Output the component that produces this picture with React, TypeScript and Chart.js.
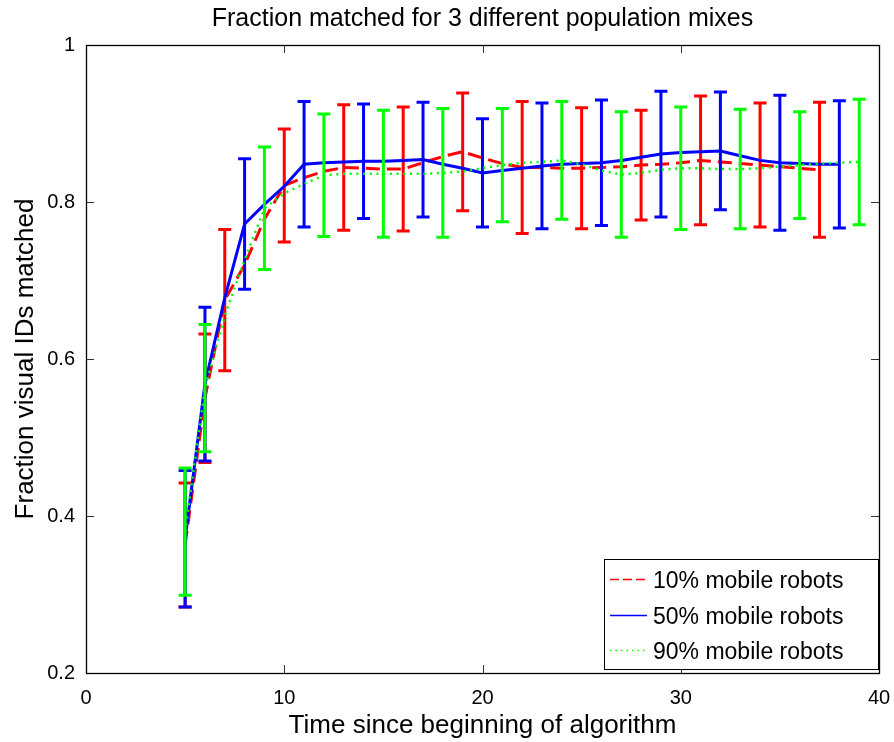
import React, { useEffect, useRef } from "react";
import { Chart, registerables } from "chart.js";

Chart.register(...registerables);

// ---------- data ----------
const timeSteps = [5, 6, 7, 8, 9, 10, 11, 12, 13, 14, 15, 16, 17, 18, 19, 20, 21, 22, 23, 24, 25, 26, 27, 28, 29, 30, 31, 32, 33, 34, 35, 36, 37, 38, 39];

const seriesLabels = ["10% mobile robots", "50% mobile robots", "90% mobile robots"];

// 10% mobile robots (x = 5..37)
const red10 = [0.363, 0.550, 0.675, 0.720, 0.778, 0.821, 0.831, 0.839, 0.844, 0.843, 0.842, 0.842, 0.850, 0.858, 0.864, 0.856, 0.849, 0.844, 0.844, 0.843, 0.843, 0.844, 0.845, 0.847, 0.848, 0.850, 0.853, 0.851, 0.849, 0.847, 0.845, 0.843, 0.841];
const red10Err = [0.079, 0.082, 0.090, null, null, 0.072, null, null, 0.080, null, null, 0.079, null, null, 0.075, null, null, 0.084, null, null, 0.077, null, null, 0.070, null, null, 0.082, null, null, 0.079, null, null, 0.086];

// 50% mobile robots (x = 5..38)
const blue50 = [0.371, 0.568, 0.678, 0.772, 0.797, 0.820, 0.848, 0.850, 0.851, 0.852, 0.852, 0.853, 0.854, 0.848, 0.843, 0.837, 0.840, 0.843, 0.846, 0.848, 0.849, 0.850, 0.853, 0.857, 0.861, 0.863, 0.864, 0.865, 0.859, 0.853, 0.850, 0.849, 0.848, 0.848];
const blue50Err = [0.087, 0.098, null, 0.083, null, null, 0.080, null, null, 0.073, null, null, 0.073, null, null, 0.069, null, null, 0.080, null, null, 0.080, null, null, 0.080, null, null, 0.075, null, null, 0.086, null, null, 0.081];

// 90% mobile robots (x = 5..39)
const green90 = [0.380, 0.563, 0.655, 0.726, 0.792, 0.811, 0.823, 0.834, 0.836, 0.836, 0.836, 0.836, 0.836, 0.837, 0.839, 0.843, 0.847, 0.850, 0.851, 0.853, 0.848, 0.840, 0.835, 0.837, 0.841, 0.843, 0.843, 0.842, 0.842, 0.843, 0.845, 0.847, 0.849, 0.850, 0.851];
const green90Err = [0.081, 0.081, null, null, 0.078, null, null, 0.078, null, null, 0.081, null, null, 0.082, null, null, 0.072, null, null, 0.075, null, null, 0.080, null, null, 0.078, null, null, 0.076, null, null, 0.068, null, null, 0.080];

const xTickValues = [0, 10, 20, 30, 40];
const yTickValues = [0.2, 0.4, 0.6, 0.8, 1];

const titleText = "Fraction matched for 3 different population mixes";
const xTitleText = "Time since beginning of algorithm";
const yTitleText = "Fraction visual IDs matched";

// ---------- styles ----------
const FONT = "'Liberation Sans', Arial, Helvetica, sans-serif";
const RED = "#ff0000";
const BLUE = "#0000ff";
const GREEN = "#00ff00";
const seriesColors = [RED, BLUE, GREEN];
const legendDashes = [[9, 4], [], [1.5, 4]];

const toPoints = (vals: number[]) => vals.map((v, i) => ({ x: timeSteps[i], y: v }));

const errorBarPlugin = {
  id: "errorBars",
  afterDatasetDraw(chart: any, args: any) {
    const ds = chart.data.datasets[args.index];
    const errs: (number | null)[] = ds.errorValues;
    if (!errs) return;
    const xs = chart.scales.x;
    const ys = chart.scales.y;
    const ctx = chart.ctx;
    ctx.save();
    ctx.strokeStyle = seriesColors[args.index];
    ctx.lineWidth = 3;
    ctx.lineCap = "butt";
    ctx.setLineDash([]);
    ds.data.forEach((p: any, i: number) => {
      const e = errs[i];
      if (e == null) return;
      const px = xs.getPixelForValue(p.x);
      const yt = ys.getPixelForValue(p.y + e);
      const yb = ys.getPixelForValue(p.y - e);
      const hw = 6.5;
      ctx.beginPath();
      ctx.moveTo(px, yt);
      ctx.lineTo(px, yb);
      ctx.moveTo(px - hw, yt);
      ctx.lineTo(px + hw, yt);
      ctx.moveTo(px - hw, yb);
      ctx.lineTo(px + hw, yb);
      ctx.stroke();
    });
    ctx.restore();
  },
};

const framePlugin = {
  id: "frameAndLegend",
  afterDraw(chart: any) {
    const ctx = chart.ctx;
    const a = chart.chartArea;
    const xs = chart.scales.x;
    const ys = chart.scales.y;
    ctx.save();
    // inward ticks
    ctx.strokeStyle = "#333";
    ctx.lineWidth = 1;
    const tl = 8;
    xTickValues.forEach((v) => {
      const px = Math.round(xs.getPixelForValue(v)) + 0.5;
      ctx.beginPath();
      ctx.moveTo(px, a.bottom);
      ctx.lineTo(px, a.bottom - tl);
      ctx.moveTo(px, a.top);
      ctx.lineTo(px, a.top + tl);
      ctx.stroke();
    });
    yTickValues.forEach((v) => {
      const py = Math.round(ys.getPixelForValue(v)) + 0.5;
      ctx.beginPath();
      ctx.moveTo(a.left, py);
      ctx.lineTo(a.left + tl, py);
      ctx.moveTo(a.right, py);
      ctx.lineTo(a.right - tl, py);
      ctx.stroke();
    });
    // frame
    ctx.strokeStyle = "#000";
    ctx.lineWidth = 1.3;
    ctx.strokeRect(Math.round(a.left) + 0.5, Math.round(a.top) + 0.5, Math.round(a.right - a.left), Math.round(a.bottom - a.top));

    // legend
    const bw = 274;
    const bh = 110;
    const bx = Math.round(a.right) - 1 - bw;
    const by = Math.round(a.bottom) - 4 - bh;
    ctx.fillStyle = "#fff";
    ctx.fillRect(bx, by, bw, bh);
    ctx.strokeStyle = "#000";
    ctx.lineWidth = 1;
    ctx.strokeRect(bx + 0.5, by + 0.5, bw, bh);
    const rows = [23, 59, 94];
    chart.data.datasets.forEach((ds: any, i: number) => {
      const ry = by + rows[i];
      ctx.strokeStyle = seriesColors[i];
      ctx.lineWidth = 1.5;
      ctx.setLineDash(legendDashes[i]);
      ctx.beginPath();
      ctx.moveTo(bx + 6, ry - 2.5);
      ctx.lineTo(bx + 43, ry - 2.5);
      ctx.stroke();
      ctx.setLineDash([]);
      ctx.fillStyle = "#000";
      ctx.font = `23px ${FONT}`;
      ctx.textBaseline = "middle";
      ctx.textAlign = "left";
      ctx.fillText(ds.label, bx + 49, ry);
    });
    ctx.restore();
  },
};

export default function App() {
  const canvasRef = useRef<HTMLCanvasElement | null>(null);

  useEffect(() => {
    const canvas = canvasRef.current;
    if (!canvas) return;
    const chart = new Chart(canvas, {
      type: "line",
      data: {
        datasets: [
          {
            label: seriesLabels[0],
            data: toPoints(red10),
            borderColor: RED,
            backgroundColor: RED,
            borderWidth: 3,
            borderDash: [14, 7],
            pointRadius: 0,
            fill: false,
            order: 3,
            errorValues: red10Err,
          } as any,
          {
            label: seriesLabels[1],
            data: toPoints(blue50),
            borderColor: BLUE,
            backgroundColor: BLUE,
            borderWidth: 3,
            pointRadius: 0,
            fill: false,
            order: 2,
            errorValues: blue50Err,
          } as any,
          {
            label: seriesLabels[2],
            data: toPoints(green90),
            borderColor: GREEN,
            backgroundColor: GREEN,
            borderWidth: 2.5,
            borderDash: [2, 4.7],
            pointRadius: 0,
            fill: false,
            order: 1,
            errorValues: green90Err,
          } as any,
        ],
      },
      options: {
        responsive: false,
        animation: false,
        devicePixelRatio: 1,
        layout: { padding: { left: 0, right: 15, top: 0, bottom: 0 } },
        elements: { line: { tension: 0 }, point: { radius: 0 } },
        plugins: {
          legend: { display: false },
          tooltip: { enabled: false },
          title: {
            display: true,
            text: titleText,
            fullSize: false,
            color: "#000",
            font: { family: FONT, size: 25, weight: "normal", lineHeight: 1.2 },
            padding: { top: 4, bottom: 11 },
          },
        },
        scales: {
          x: {
            type: "linear",
            min: 0,
            max: 40,
            afterBuildTicks: (s: any) => {
              s.ticks = xTickValues.map((v) => ({ value: v }));
            },
            ticks: {
              color: "#000",
              font: { family: FONT, size: 20 },
              padding: 13,
              maxRotation: 0,
              autoSkip: false,
            },
            grid: { display: false, drawTicks: false },
            border: { display: false },
            title: {
              display: true,
              text: xTitleText,
              color: "#000",
              font: { family: FONT, size: 26, lineHeight: 1.2 },
              padding: { top: 0, bottom: 1 },
            },
            afterFit: (s: any) => {
              s.height = 69;
              s.paddingLeft = 0;
              s.paddingRight = 0;
            },
          },
          y: {
            type: "linear",
            min: 0.2,
            max: 1,
            afterBuildTicks: (s: any) => {
              s.ticks = yTickValues.map((v) => ({ value: v }));
            },
            ticks: {
              color: "#000",
              font: { family: FONT, size: 20 },
              padding: 11,
              autoSkip: false,
              callback: (v: any) => String(Math.round(Number(v) * 10) / 10),
            },
            grid: { display: false, drawTicks: false },
            border: { display: false },
            title: {
              display: true,
              text: yTitleText,
              color: "#000",
              font: { family: FONT, size: 26, lineHeight: 1.2 },
              padding: { top: 10, bottom: 0 },
            },
            afterFit: (s: any) => {
              s.width = 86;
              s.paddingTop = 0;
              s.paddingBottom = 0;
            },
          },
        },
      } as any,
      plugins: [errorBarPlugin, framePlugin],
    });
    return () => chart.destroy();
  }, []);

  return (
    <div style={{ position: "fixed", left: 0, top: 0, width: 894, height: 742, background: "#fff" }}>
      <canvas ref={canvasRef} width={894} height={742} style={{ width: 894, height: 742, display: "block" }} />
    </div>
  );
}
